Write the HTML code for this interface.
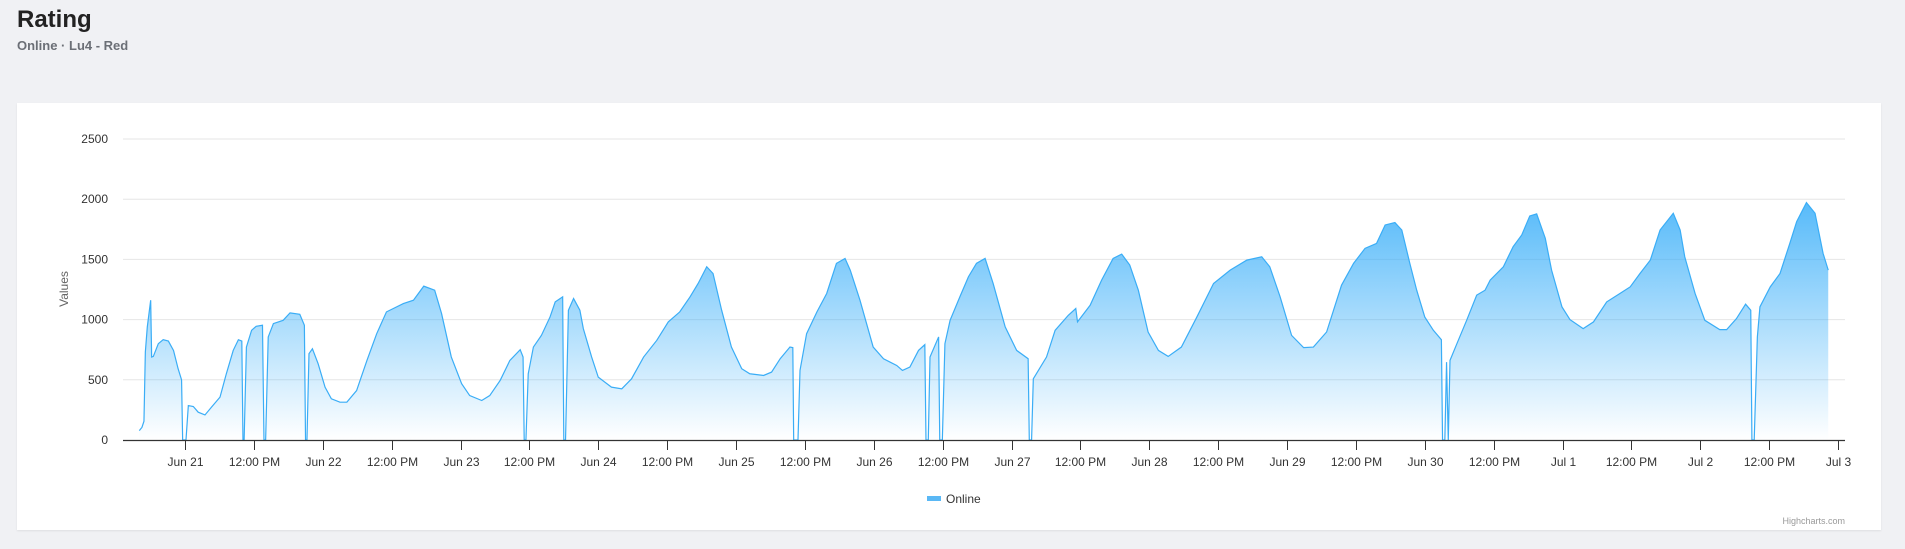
<!DOCTYPE html>
<html><head><meta charset="utf-8">
<style>
html,body{margin:0;padding:0;background:#f0f1f4;width:1905px;height:549px;overflow:hidden;font-family:"Liberation Sans",sans-serif;}
#title{position:absolute;left:17px;top:6px;font-size:24px;font-weight:bold;color:#222;}
#subtitle{position:absolute;left:17px;top:38px;font-size:13px;font-weight:bold;color:#6b6f76;}
#card{position:absolute;left:17px;top:103px;width:1864px;height:427px;background:#fff;box-shadow:0 1px 2px rgba(0,0,0,0.08);}
svg{position:absolute;left:0;top:0;}
</style></head>
<body>
<div id="title">Rating</div>
<div id="subtitle">Online · Lu4 - Red</div>
<div id="card"></div>
<svg id="chart" width="1905" height="549">
<defs><linearGradient id="g" x1="0" y1="139" x2="0" y2="440" gradientUnits="userSpaceOnUse">
<stop offset="0" stop-color="#2aa8f8" stop-opacity="1"/><stop offset="1" stop-color="#2aa8f8" stop-opacity="0"/></linearGradient></defs>
</svg>
<script>
// hours since Jun 20 00:00
const hours=[16.04,16.5,16.85,17.09,17.43,18.02,18.19,18.48,19.35,20.2,21.1,22.0,22.8,23.4,23.59,24.17,24.58,25.45,26.3,27.48,28.6,30.1,31.2,32.4,33.3,33.9,34.1,34.3,34.7,35.6,36.4,37.5,37.76,38.05,38.5,39.4,41.1,42.3,44.0,44.8,45.0,45.25,45.6,46.2,47.2,48.4,49.5,51.0,52.2,53.9,55.7,57.4,59.1,60.3,62.04,63.8,65.6,67.5,68.7,70.4,72.2,73.6,75.7,77.1,78.9,80.6,82.4,82.9,83.1,83.4,83.8,84.7,86.1,87.6,88.5,89.8,90.0,90.3,90.8,91.7,92.8,93.4,94.85,96.0,98.3,100.1,101.8,103.9,106.2,108.2,110.2,112.0,113.4,114.9,116.0,117.5,119.2,121.0,122.4,124.8,126.2,127.7,129.4,129.9,130.05,130.8,131.15,132.3,134.1,135.8,137.5,139.0,139.9,141.6,143.9,145.7,148.0,149.0,150.3,151.8,152.9,153.1,153.5,153.8,155.3,155.5,155.95,156.4,157.3,159.0,160.5,161.9,163.4,164.8,166.9,168.9,170.9,171.1,171.5,171.8,174.1,175.6,177.9,179.2,179.5,181.7,183.7,185.7,187.2,188.6,190.1,191.8,193.6,195.3,197.6,200.3,203.2,206.1,209.0,211.6,213.0,214.8,216.8,218.9,220.6,222.9,225.5,227.6,229.6,231.6,233.1,234.8,236.0,237.4,238.6,240.0,241.5,242.9,243.1,243.5,243.8,244.1,244.4,245.6,247.3,249.05,250.5,251.4,253.7,255.4,256.9,258.3,259.5,261.0,262.1,263.9,265.3,267.6,269.4,271.7,274.0,275.8,277.5,279.3,281.0,283.3,284.5,285.3,287.1,288.8,291.4,292.6,294.3,295.9,296.8,297.0,297.4,297.95,298.4,300.2,301.9,303.6,304.8,306.5,308.0,309.4,310.3];
const values=[78,105,156,731,939,1161,689,694,800,833,822,744,592,500,0,0,286,278,231,208,272,356,550,744,833,822,0,0,772,911,944,953,0,0,856,967,994,1056,1044,953,0,0,717,758,633,439,342,314,314,411,661,883,1064,1092,1133,1161,1278,1244,1050,689,467,369,328,369,494,661,750,689,0,0,550,772,869,1022,1147,1189,0,0,1078,1175,1078,925,689,522,439,425,508,689,828,981,1064,1189,1300,1439,1383,1078,772,592,550,536,564,675,772,767,0,0,578,883,1064,1217,1467,1508,1411,1161,772,675,619,578,606,744,792,0,0,689,856,0,0,800,994,1189,1356,1467,1508,1300,939,744,675,0,0,508,689,911,1036,1092,981,1119,1328,1508,1544,1453,1244,897,744,694,772,1022,1300,1411,1494,1522,1439,1189,869,767,772,897,1286,1467,1592,1633,1786,1806,1744,1467,1244,1022,911,833,0,0,647,0,661,800,994,1203,1244,1328,1439,1606,1703,1861,1878,1675,1411,1106,1000,925,981,1147,1217,1272,1383,1494,1744,1883,1744,1522,1217,994,917,917,1008,1128,1078,0,0,856,1106,1272,1383,1633,1814,1972,1883,1550,1411];
const yTicks=[0,500,1000,1500,2000,2500];
const xTickHours=[24,36,48,60,72,84,96,108,120,132,144,156,168,180,192,204,216,228,240,252,264,276,288,300,312];
const xTickLabels=["Jun 21","12:00 PM","Jun 22","12:00 PM","Jun 23","12:00 PM","Jun 24","12:00 PM","Jun 25","12:00 PM","Jun 26","12:00 PM","Jun 27","12:00 PM","Jun 28","12:00 PM","Jun 29","12:00 PM","Jun 30","12:00 PM","Jul 1","12:00 PM","Jul 2","12:00 PM","Jul 3"];

const svg=document.getElementById('chart');
const NS='http://www.w3.org/2000/svg';
const X0=123,X1=1845,Y0=440,Y1=139;
const xs=h=>47.25+h/24*137.75;
const ys=v=>Y0-v/2500*(Y0-Y1);
function mk(tag,attrs,text){const e=document.createElementNS(NS,tag);for(const k in attrs)e.setAttribute(k,attrs[k]);if(text!==undefined)e.textContent=text;svg.appendChild(e);return e;}

yTicks.forEach(v=>{
  if(v>0){const g=mk('line',{x1:X0,x2:X1,y1:ys(v),y2:ys(v),stroke:'#e6e6e6','stroke-width':1});
  
  }
  const t=mk('text',{x:108,y:ys(v)+4,'text-anchor':'end','font-size':12,fill:'#333'},String(v));
  
  
});
const yt=mk('text',{x:0,y:0,'text-anchor':'middle','font-size':12,fill:'#666',transform:'translate(68,289) rotate(-90)'},'Values');



let d='M'+xs(hours[0]).toFixed(2)+','+ys(values[0]).toFixed(2);
for(let i=1;i<hours.length;i++)d+='L'+xs(hours[i]).toFixed(2)+','+ys(values[i]).toFixed(2);
const area=mk('path',{d:d+'L'+xs(hours[hours.length-1]).toFixed(2)+','+Y0+'L'+xs(hours[0]).toFixed(2)+','+Y0+'Z',fill:'url(#g)',stroke:'none'});


const line=mk('path',{d:d,fill:'none',stroke:'#3aadf6','stroke-width':1.2});



const ax=mk('line',{x1:X0,x2:X1,y1:Y0+0.5,y2:Y0+0.5,stroke:'#333','stroke-width':1.2});


xTickHours.forEach((h,i)=>{
  const x=Math.round(xs(h))+0.5;
  const tk=mk('line',{x1:x,x2:x,y1:Y0,y2:Y0+10,stroke:'#333','stroke-width':1});
  
  
  const t=mk('text',{x:x,y:466,'text-anchor':'middle','font-size':12,fill:'#333'},xTickLabels[i]);
  
  
});

const li=mk('rect',{x:927,y:496,width:14,height:5,fill:'#5ab8f5'});


const lt=mk('text',{x:946,y:503,'font-size':12,fill:'#333'},'Online');


const cr=mk('text',{x:1845,y:524,'text-anchor':'end','font-size':9,fill:'#999'},'Highcharts.com');


</script>
</body></html>
